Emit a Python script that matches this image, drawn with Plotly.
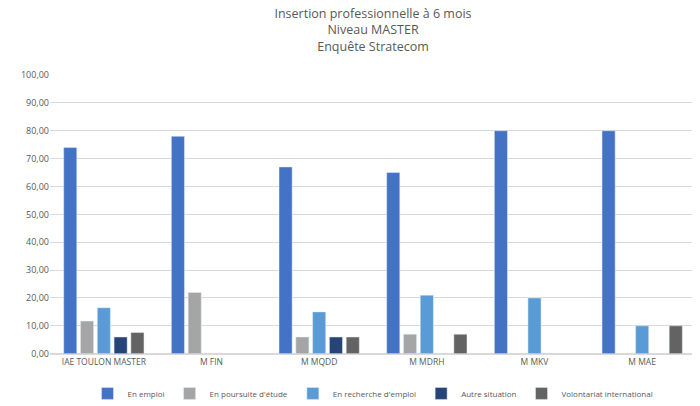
import plotly.graph_objects as go

categories = ["IAE TOULON MASTER", "M FIN", "M MQDD", "M MDRH", "M MKV", "M MAE"]
series_names = ["En emploi", "En poursuite d'étude", "En recherche d'emploi", "Autre situation", "Volontariat international"]
en_emploi = [74, 78, 67, 65, 80, 80]
poursuite = [11.7, 22, 6, 7, None, None]
recherche = [16.5, None, 15, 21, 20, 10]
autre = [6, None, 6, None, None, None]
volontariat = [7.6, None, 6, 7, None, 10]
colors = ["#4472C4", "#A5A5A5", "#5B9BD5", "#264478", "#636363"]
tick_vals = [0, 10, 20, 30, 40, 50, 60, 70, 80, 90, 100]
tick_text = ["0,00", "10,00", "20,00", "30,00", "40,00", "50,00", "60,00", "70,00", "80,00", "90,00", "100,00"]

fig = go.Figure()
for name, vals, c in zip(series_names, [en_emploi, poursuite, recherche, autre, volontariat], colors):
    fig.add_trace(go.Bar(name=name, x=categories, y=vals, marker_color=c))

fig.update_layout(
    width=700, height=406,
    paper_bgcolor="white", plot_bgcolor="white",
    font=dict(family="Open Sans, sans-serif", color="#595959", size=9),
    title=dict(text="Insertion professionnelle à 6 mois<br>Niveau MASTER<br>Enquête Stratecom",
               x=0.5, xref="paper", y=0.975, yref="container", yanchor="top",
               font=dict(size=12.5, color="#595959")),
    margin=dict(l=42, r=12, t=67, b=46),
    barmode="group", bargap=0.22, bargroupgap=0.22,
    legend=dict(orientation="h", x=0.5, xanchor="center", xref="paper",
                y=0.015, yref="container", yanchor="bottom",
                font=dict(size=8), itemwidth=30, tracegroupgap=0),
    yaxis=dict(range=[0, 100], tickvals=tick_vals, ticktext=tick_text,
               gridcolor="#D9D9D9", showline=False, zeroline=True, zerolinecolor="#D9D9D9"),
    xaxis=dict(showline=True, linecolor="#D9D9D9", tickfont=dict(size=8.5)),
)
fig.write_html("out.html")
